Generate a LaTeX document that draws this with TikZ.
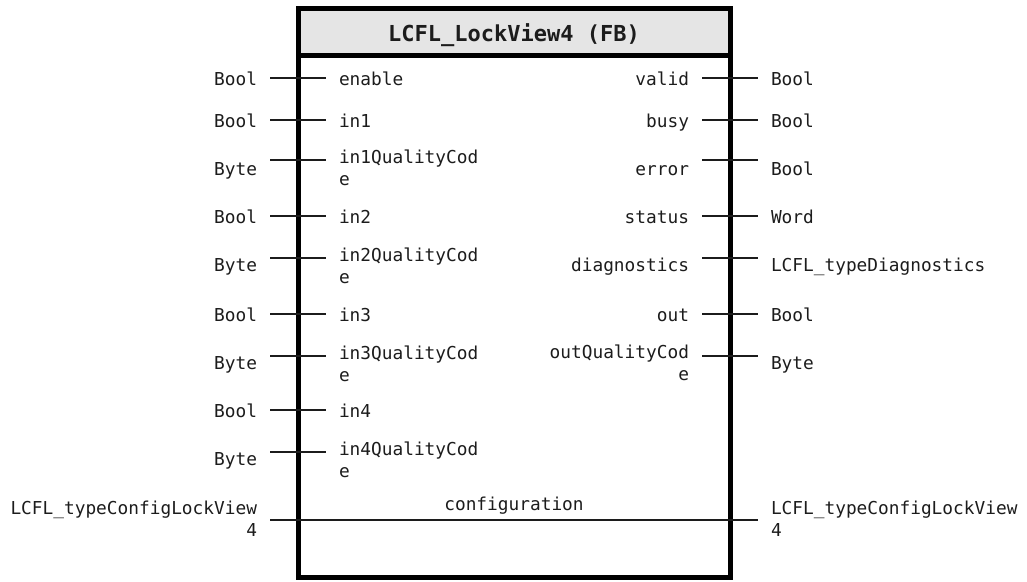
\documentclass[tikz,border=0pt]{standalone}
\usepackage{fontspec}
\newfontfamily\pinfont{DejaVu Sans Mono}
\definecolor{headgray}{RGB}{229,229,229}
\definecolor{ink}{RGB}{28,28,28}
\tikzset{
  lbl/.style={font=\pinfont\fontsize{17.8}{22}\selectfont, text=ink, inner sep=0pt, outer sep=0pt},
  inlbl/.style={lbl, anchor=base west},
  outlbl/.style={lbl, anchor=base east},
  twoleft/.style={lbl, anchor=base west, text width=#1, align=left},
  tworight/.style={lbl, anchor=base east, text width=#1, align=right},
  wire/.style={line width=1.6pt, draw=ink},
  fbframe/.style={draw=black, line width=5pt, inner sep=0pt, outer sep=0pt, anchor=north west},
  titlelbl/.style={font=\pinfont\bfseries\fontsize{22}{26}\selectfont, text=ink, inner sep=0pt, anchor=base},
}
\begin{document}
\begin{tikzpicture}[x=1pt,y=-1pt]
\useasboundingbox (0,0) rectangle (1027,581);

% function block: header band and outline
\node[fbframe, fill=headgray, minimum width=432pt, minimum height=47.8pt] (head) at (298,8) {};
\node[fbframe, minimum width=432pt, minimum height=569pt] (fb) at (298,8) {};
\node[titlelbl] (title) at (514,41.5) {LCFL\_LockView4 (FB)};

% input wires
\foreach \n/\y in {enable/78,in1/120,in1qc/160,in2/216,in2qc/258,in3/314,in3qc/356,in4/410,in4qc/452}{
  \coordinate (\n-src) at (270,\y);
  \coordinate (\n-dst) at (326,\y);
  \draw[wire] (\n-src) -- (\n-dst);
}
% output wires
\foreach \n/\y in {valid/78,busy/120,error/160,status/216,diag/258,out/314,outqc/356}{
  \coordinate (\n-src) at (702,\y);
  \coordinate (\n-dst) at (758,\y);
  \draw[wire] (\n-src) -- (\n-dst);
}
% in/out parameter running through the block
\coordinate (cfg-src) at (270,520);
\coordinate (cfg-dst) at (758,520);
\draw[wire] (cfg-src) -- (cfg-dst);

% input data types
\node[outlbl] (t-enable) at (257,85) {Bool};
\node[outlbl] (t-in1) at (257,127) {Bool};
\node[outlbl] (t-in1qc) at (257,175) {Byte};
\node[outlbl] (t-in2) at (257,223) {Bool};
\node[outlbl] (t-in2qc) at (257,271) {Byte};
\node[outlbl] (t-in3) at (257,321) {Bool};
\node[outlbl] (t-in3qc) at (257,369) {Byte};
\node[outlbl] (t-in4) at (257,417) {Bool};
\node[outlbl] (t-in4qc) at (257,465) {Byte};
\node[tworight=270pt] (t-cfg-in) at (257,514) {LCFL\_typeConfigLockView\\4};

% input parameters
\node[inlbl] (enable) at (339,85) {enable};
\node[inlbl] (in1) at (339,127) {in1};
\node[twoleft=150pt] (in1qc) at (339,163) {in1QualityCod\\e};
\node[inlbl] (in2) at (339,223) {in2};
\node[twoleft=150pt] (in2qc) at (339,261) {in2QualityCod\\e};
\node[inlbl] (in3) at (339,321) {in3};
\node[twoleft=150pt] (in3qc) at (339,359) {in3QualityCod\\e};
\node[inlbl] (in4) at (339,417) {in4};
\node[twoleft=150pt] (in4qc) at (339,455) {in4QualityCod\\e};
\node[lbl, anchor=base] (cfg) at (514,510) {configuration};

% output parameters
\node[outlbl] (valid) at (689,85) {valid};
\node[outlbl] (busy) at (689,127) {busy};
\node[outlbl] (error) at (689,175) {error};
\node[outlbl] (status) at (689,223) {status};
\node[outlbl] (diag) at (689,271) {diagnostics};
\node[outlbl] (out) at (689,321) {out};
\node[tworight=150pt] (outqc) at (689,358) {outQualityCod\\e};

% output data types
\node[inlbl] (t-valid) at (771,85) {Bool};
\node[inlbl] (t-busy) at (771,127) {Bool};
\node[inlbl] (t-error) at (771,175) {Bool};
\node[inlbl] (t-status) at (771,223) {Word};
\node[inlbl] (t-diag) at (771,271) {LCFL\_typeDiagnostics};
\node[inlbl] (t-out) at (771,321) {Bool};
\node[inlbl] (t-outqc) at (771,369) {Byte};
\node[twoleft=270pt] (t-cfg-out) at (771,514) {LCFL\_typeConfigLockView\\4};
\end{tikzpicture}
\end{document}
